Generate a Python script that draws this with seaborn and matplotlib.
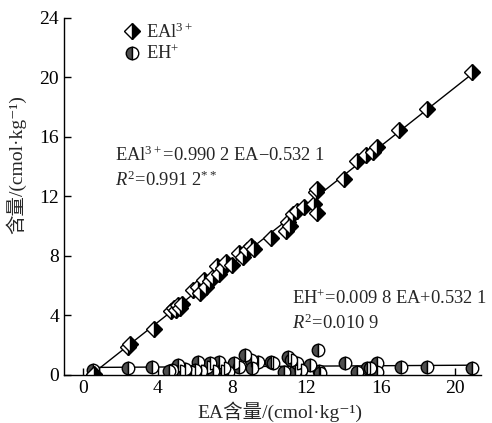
import matplotlib
matplotlib.use("Agg")
import matplotlib.pyplot as plt
import seaborn as sns
import pandas as pd

# EAl3+ points (EA, EAl3+)
eal_x = [0.6, 2.4, 2.5, 3.8, 4.7, 4.9, 5.0, 5.1, 5.2, 5.3, 5.9, 6.2, 6.3, 6.5, 6.6,
         6.8, 7.0, 7.2, 7.3, 7.5, 7.7, 8.0, 8.4, 8.6, 8.8, 9.0, 9.2, 10.1, 10.9,
         11.0, 11.1, 11.3, 11.5, 11.9, 12.4, 12.5, 12.6, 12.6, 14.0, 14.7, 15.2,
         15.6, 15.8, 17.0, 18.5, 20.9]
eal_y = [0.1, 1.9, 2.1, 3.1, 4.3, 4.5, 4.4, 4.7, 4.5, 4.8, 5.7, 5.9, 5.5, 6.4, 5.9,
         6.3, 6.6, 7.3, 6.8, 7.2, 7.6, 7.4, 8.2, 7.9, 8.4, 8.7, 8.5, 9.2, 9.7,
         10.3, 10.0, 10.8, 11.0, 11.3, 11.5, 12.3, 12.5, 10.9, 13.2, 14.4, 14.8,
         15.0, 15.3, 16.5, 17.9, 20.4]

# EH+ points (EA, EH+)
eh_x = [0.55, 2.4, 3.7, 4.8, 5.1, 5.2, 5.8, 6.2, 6.35, 6.65, 6.8, 7.3, 7.4, 7.8,
        8.1, 8.4, 8.7, 9.0, 9.1, 9.4, 10.1, 10.2, 10.8, 11.0, 11.2, 11.4, 11.5,
        11.7, 12.2, 12.65, 12.7, 12.75, 14.1, 14.7, 15.25, 15.4, 15.8, 15.8,
        17.1, 18.5, 20.9, 5.5, 6.0, 7.0, 7.6, 4.6]
eh_y = [0.34, 0.45, 0.56, 0.34, 0.67, 0.3, 0.22, 0.9, 0.3, 0.56, 0.8, 0.9, 0.3, 0.2,
        0.78, 0.56, 1.35, 1.0, 0.45, 0.9, 0.9, 0.78, 0.22, 1.23, 1.0, 0.3, 0.8,
        0.35, 0.67, 1.68, 0.3, 0.15, 0.78, 0.22, 0.45, 0.5, 0.78, 0.2,
        0.56, 0.56, 0.45, 0.4, 0.35, 0.25, 0.45, 0.3]

x_ticks = [0, 4, 8, 12, 16, 20]
y_ticks = [0, 4, 8, 12, 16, 20, 24]

sns.set_theme(style="ticks")
plt.rcParams["font.family"] = ["Liberation Serif", "Noto Sans CJK SC", "DejaVu Sans"]
plt.rcParams["mathtext.fontset"] = "custom"
plt.rcParams["mathtext.rm"] = "Liberation Serif"
plt.rcParams["mathtext.it"] = "Liberation Serif:italic"
plt.rcParams["mathtext.bf"] = "Liberation Serif:bold"

FS = 14
EQ = 13.3

df_eal = pd.DataFrame({"EA": eal_x, "val": eal_y})
df_eh = pd.DataFrame({"EA": eh_x, "val": eh_y})

fig = plt.figure(figsize=(4.92, 4.23), dpi=100)
ax = fig.add_axes([0.130, 0.1135, 0.848, 0.844])

# regression lines
sns.regplot(data=df_eal, x="EA", y="val", scatter=False, ci=None, ax=ax,
            color="black", line_kws={"lw": 1.0})
sns.regplot(data=df_eh, x="EA", y="val", scatter=False, ci=None, ax=ax,
            color="black", line_kws={"lw": 1.0})

# markers
sns.lineplot(data=df_eh, x="EA", y="val", estimator=None, sort=False, ax=ax,
             linestyle="", marker="o", markersize=9, fillstyle="left",
             markerfacecolor="#4d4d4d", markerfacecoloralt="white",
             markeredgecolor="black", markeredgewidth=1.0, color="black",
             label="EH$^{+}$")
sns.lineplot(data=df_eal, x="EA", y="val", estimator=None, sort=False, ax=ax,
             linestyle="", marker="D", markersize=8.3, fillstyle="right",
             markerfacecolor="black", markerfacecoloralt="white",
             markeredgecolor="black", markeredgewidth=1.0, color="black",
             label="EAl$^{3+}$")

ax.set_xlim(-1.03, 21.4)
ax.set_ylim(0, 24)
ax.set_xticks(x_ticks)
ax.set_yticks(y_ticks)
ax.tick_params(direction="in", length=5, width=1, labelsize=FS, colors="black")
for s in ["left", "bottom"]:
    ax.spines[s].set_linewidth(1.0)
    ax.spines[s].set_color("black")
sns.despine(ax=ax)

ax.set_xlabel("EA含量/(cmol·kg\u207b\u00b9)", fontsize=FS)
ax.set_ylabel("含量/(cmol·kg\u207b\u00b9)", fontsize=FS)
ax.xaxis.set_label_coords(0.517, -0.075)
ax.yaxis.set_label_coords(-0.09, 0.59)

handles, labels = ax.get_legend_handles_labels()
order = [labels.index("EAl$^{3+}$"), labels.index("EH$^{+}$")]
leg = ax.legend([handles[i] for i in order], [labels[i] for i in order],
                loc="upper left", bbox_to_anchor=(0.1, 1.035), frameon=False,
                fontsize=EQ, handletextpad=0.3, handlelength=1.0,
                labelspacing=0.15)

ax.text(0.123, 0.616, "EAl$^{3+}$=0.990 2 EA\u22120.532 1", transform=ax.transAxes,
        fontsize=EQ, va="center", ha="left")
ax.text(0.123, 0.546, "$R^2$=0.991 2$^{**}$", transform=ax.transAxes,
        fontsize=EQ, va="center", ha="left")
ax.text(0.546, 0.213, "EH$^{+}$=0.009 8 EA+0.532 1", transform=ax.transAxes,
        fontsize=EQ, va="center", ha="left")
ax.text(0.546, 0.146, "$R^2$=0.010 9", transform=ax.transAxes,
        fontsize=EQ, va="center", ha="left")

fig.savefig("out.png", dpi=100)
